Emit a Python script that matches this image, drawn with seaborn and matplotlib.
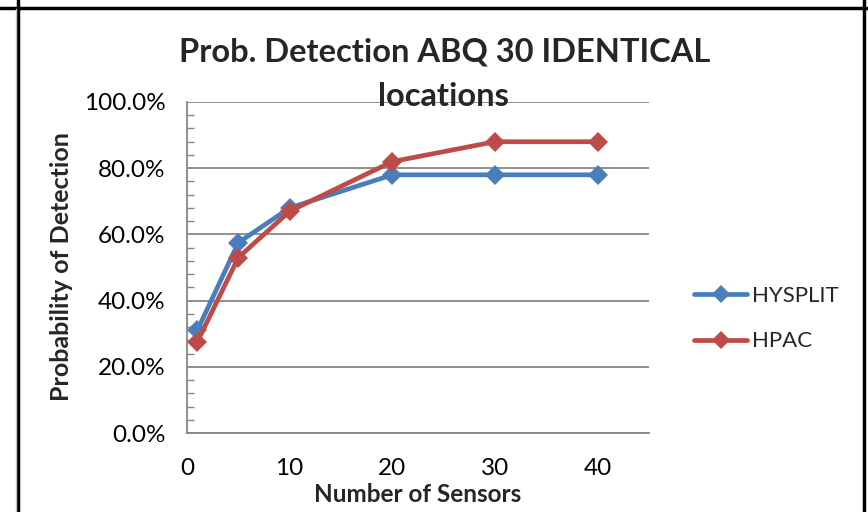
import matplotlib
matplotlib.use("Agg")
import matplotlib.pyplot as plt
import matplotlib.ticker as mticker
from matplotlib.lines import Line2D
import seaborn as sns
import pandas as pd

sensors = [1, 5, 10, 20, 30, 40]
hysplit = [0.31, 0.575, 0.68, 0.78, 0.78, 0.78]
hpac = [0.275, 0.53, 0.67, 0.82, 0.88, 0.88]
series_names = ["HYSPLIT", "HPAC"]
colors = ["#4A7EBB", "#BE4B48"]

df = pd.concat([
    pd.DataFrame({"Sensors": sensors, "Prob": hysplit, "Model": series_names[0]}),
    pd.DataFrame({"Sensors": sensors, "Prob": hpac, "Model": series_names[1]}),
])

sns.set_theme(style="white")
plt.rcParams["font.family"] = ["Lato", "DejaVu Sans"]

W, H = 868, 512
fig = plt.figure(figsize=(W / 100, H / 100), dpi=100)
ax = fig.add_axes([187 / W, 1 - 433 / H, (649 - 187) / W, (433 - 102) / H])

sns.lineplot(data=df, x="Sensors", y="Prob", hue="Model", palette=colors,
             marker="D", markersize=10, linewidth=3.4, markeredgewidth=0,
             dashes=False, ax=ax, legend=False)

ax.set_xlim(0, 45)
ax.set_ylim(0, 1.0)
ax.set_xticks([0, 10, 20, 30, 40])
ax.set_yticks([0, 0.2, 0.4, 0.6, 0.8, 1.0])
ax.yaxis.set_major_formatter(mticker.PercentFormatter(1.0, decimals=1))
ax.yaxis.set_minor_locator(mticker.MultipleLocator(0.04))
ax.grid(axis="y", color="#878787", linewidth=1.3)
ax.set_axisbelow(True)
for s in ["top", "right"]:
    ax.spines[s].set_visible(False)
for s in ["left", "bottom"]:
    ax.spines[s].set_color("#878787")
    ax.spines[s].set_linewidth(1.3)
ax.tick_params(axis="both", which="major", direction="out", length=6,
               color="#878787", width=1.2, labelsize=17.5, labelcolor="black")
ax.tick_params(axis="y", which="major", pad=9.5)
ax.tick_params(axis="y", which="minor", direction="in", left=True, length=5,
               color="#878787", width=1.0)
ax.tick_params(axis="x", pad=12)

ax.set_xlabel("Number of Sensors", fontsize=17.5, fontweight="bold", va="center")
ax.xaxis.set_label_coords((418 - 187) / 462, (433 - 494) / 331)
ax.set_ylabel("Probability of Detection", fontsize=18, fontweight="bold", va="center")
ax.yaxis.set_label_coords((62 - 187) / 462, (433 - 267) / 331)

fig.text(445 / W, 1 - 52 / H, "Prob. Detection ABQ 30 IDENTICAL", ha="center",
         va="center", fontsize=23.5, fontweight="bold")
fig.text(443 / W, 1 - 96 / H, "locations", ha="center", va="center",
         fontsize=23.5, fontweight="bold")

handles = [Line2D([0], [0], color=c, marker="D", markersize=9, linewidth=3.4,
                  markeredgewidth=0) for c in colors]
fig.legend(handles, series_names, loc="center left",
           bbox_to_anchor=(674 / W, 1 - 318.5 / H), frameon=False, fontsize=16,
           handlelength=2.4, labelspacing=1.15, handletextpad=0.2)

# surrounding table-cell frame
fig.add_artist(Line2D([0, 1], [1 - 7.5 / H, 1 - 7.5 / H], color="black", linewidth=2.5))
fig.add_artist(Line2D([18 / W, 18 / W], [0, 1], color="black", linewidth=2.5))
fig.add_artist(Line2D([16 / W, 16 / W], [0, 1 - 9 / H], color="#c8c8c8", linewidth=1))
fig.add_artist(Line2D([863.5 / W, 863.5 / W], [0, 1], color="black", linewidth=2.5))

fig.savefig("out.png", dpi=100)
